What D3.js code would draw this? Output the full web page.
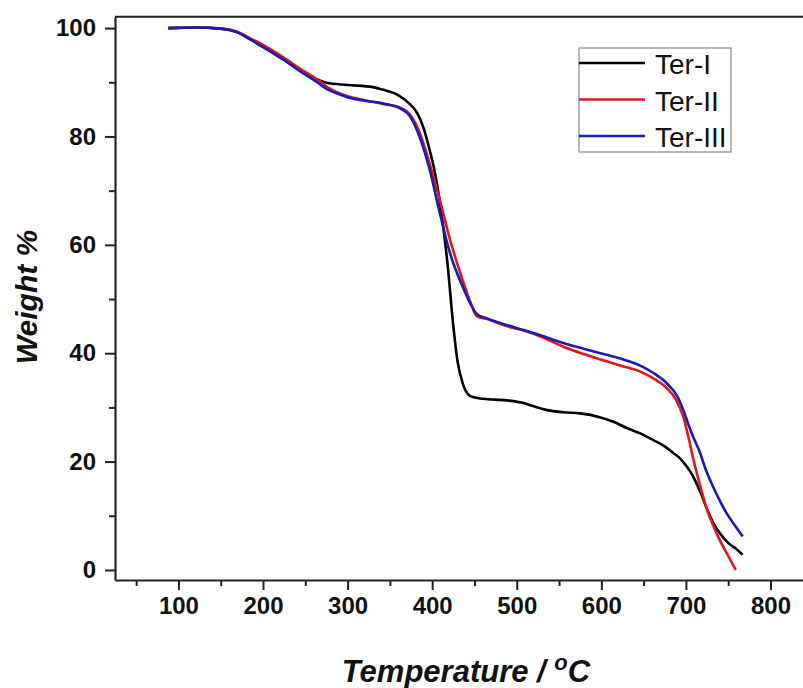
<!DOCTYPE html>
<html>
<head>
<meta charset="utf-8">
<script src="https://cdn.jsdelivr.net/npm/d3@7"></script>
<style>
body{margin:0;background:#fff;}
svg{display:block;font-family:"Liberation Sans",Arial,sans-serif;}
</style>
</head>
<body>
<div id="plot"></div>
<script>
// TGA curves: [temperature, weight %]
var terI = [[88,100],[120,100.1],[150,99.9],[170,99.2],[185,97.9],[200,96.6],[224,94.2],[245,92.2],[264,90.5],[275,89.9],[300,89.5],[330,89.1],[342,88.6],[355,88.0],[362,87.4],[372,86.2],[382,84.4],[390,81.5],[397,77.5],[403,73.5],[408,69],[412,64.6],[418,56.7],[425,45],[430,38.5],[436,34.5],[442,32.5],[448,31.9],[460,31.6],[488,31.3],[508,30.8],[520,30.2],[536,29.5],[555,29.1],[575,28.9],[598,28.2],[615,27.3],[630,26.2],[646,25.2],[661,24.0],[675,22.8],[685,21.6],[693,20.6],[700,19.3],[705,18.2],[711,16.5],[718,14],[725,11.2],[732,8.8],[740,6.8],[750,5],[760,3.8],[767,2.8]];

var terII = [[88,100],[120,100.1],[150,99.9],[170,99.3],[185,98.1],[200,96.9],[224,94.6],[244,92.5],[264,90.5],[275,89.2],[290,88],[303,87.3],[320,86.7],[342,86.0],[362,85.3],[374,84],[385,80.8],[397,75],[409,68.3],[421,61],[436,53.5],[445,49.5],[453,46.8],[465,46.3],[488,45],[510,44.1],[528,43.1],[555,41.2],[580,39.8],[606,38.5],[625,37.6],[646,36.6],[662,35.3],[677,33.6],[688,31.5],[697,28.2],[703,24.5],[709,20.3],[716,16],[725,11.1],[732,8.3],[740,5.5],[750,2.6],[759,0]];

var terIII = [[88,100],[120,100.1],[150,99.9],[170,99.2],[185,97.9],[200,96.5],[224,94.2],[244,92],[264,90],[275,88.8],[290,87.8],[303,87.1],[320,86.6],[342,86.1],[362,85.2],[374,83.7],[385,80],[397,73.9],[409,65.9],[421,58.5],[436,52.3],[445,49.2],[453,47.2],[465,46.4],[488,45.2],[510,44.2],[528,43.3],[555,41.9],[580,40.8],[606,39.7],[625,38.9],[646,37.7],[662,36.3],[677,34.5],[690,32],[697,29.5],[703,26.8],[709,24.4],[716,21.9],[724,18.3],[732,15.4],[740,12.8],[748,10.5],[758,8.2],[767,6.2]];

var seriesNames = ['Ter-I','Ter-II','Ter-III'];
var seriesColors = ['#000000','#e3161d','#1a1ab4'];
var xTicks = [100,200,300,400,500,600,700,800];
var yTicks = [0,20,40,60,80,100];

var W = 803, H = 688;
var margin = {t:16.7,l:115,b:108};

var svg = d3.select('#plot').append('svg')
	.attr('width',W)
	.attr('height',H);

// the frame runs past the right edge of the picture, so its right side is cut off
var x = d3.scaleLinear().domain([25,850]).range([margin.l, 178.3+750*0.846]);
var y = d3.scaleLinear().domain([-1.85,102.1]).range([H-margin.b, margin.t]);

var line = d3.line()
	.x(function(d){return x(d[0]);})
	.y(function(d){return y(d[1]);})
	.curve(d3.curveMonotoneX);

[terI,terII,terIII].forEach(function(s,i){
	svg.append('path')
		.datum(s)
		.attr('fill','none')
		.attr('stroke',seriesColors[i])
		.attr('stroke-width',2.6)
		.attr('stroke-linejoin','round')
		.attr('d',line);
});

// top of frame
svg.append('line')
	.attr('x1',x.range()[0]).attr('x2',W+5)
	.attr('y1',y.range()[1]).attr('y2',y.range()[1])
	.attr('stroke','#222').attr('stroke-width',2);

// axes
var xMinor = d3.range(50,851,100);
var yMinor = d3.range(10,100,20);

var gx = svg.append('g').attr('transform','translate(0,'+y.range()[0]+')');
gx.call(d3.axisBottom(x).tickValues(xMinor).tickSize(6).tickSizeOuter(0).tickFormat(''));
gx.call(function(g){
	var a = g.append('g');
	a.call(d3.axisBottom(x).tickValues(xTicks).tickSize(10).tickPadding(7));
	a.select('.domain').remove();
});

var gy = svg.append('g').attr('transform','translate('+x.range()[0]+',0)');
gy.call(d3.axisLeft(y).tickValues(yMinor).tickSize(6).tickSizeOuter(0).tickFormat(''));
gy.call(function(g){
	var a = g.append('g');
	a.call(d3.axisLeft(y).tickValues(yTicks).tickSize(10).tickPadding(9));
	a.select('.domain').remove();
});

svg.selectAll('.domain').attr('stroke','#222').attr('stroke-width',2.2);
svg.selectAll('.tick line').attr('stroke','#222').attr('stroke-width',2);
svg.selectAll('.tick text')
	.attr('font-family','"Liberation Sans",Arial,sans-serif')
	.attr('font-size',24)
	.attr('font-weight','bold')
	.attr('fill','#111');

// axis titles
svg.append('text')
	.attr('transform','translate(37,297) rotate(-90)')
	.attr('text-anchor','middle')
	.attr('font-size',30)
	.attr('font-weight','bold')
	.attr('font-style','italic')
	.attr('fill','#111')
	.text('Weight %');

var xt = svg.append('text')
	.attr('x',466).attr('y',682)
	.attr('text-anchor','middle')
	.attr('font-size',31)
	.attr('font-weight','bold')
	.attr('font-style','italic')
	.attr('fill','#111');
xt.append('tspan').text('Temperature / ');
xt.append('tspan').attr('dy',-12).attr('font-size',22).text('o');
xt.append('tspan').attr('dy',12).text('C');

// legend
var lg = svg.append('g');
lg.append('rect')
	.attr('x',579).attr('y',48).attr('width',152).attr('height',104)
	.attr('fill','#fff').attr('stroke','#888').attr('stroke-width',1.2);
seriesNames.forEach(function(n,i){
	var ly = 63 + i*36.5;
	lg.append('line')
		.attr('x1',579).attr('x2',645)
		.attr('y1',ly).attr('y2',ly)
		.attr('stroke',seriesColors[i]).attr('stroke-width',2.6);
	lg.append('text')
		.attr('x',655).attr('y',ly+11)
		.attr('font-size',28)
		.attr('fill','#111')
		.text(n);
});
</script>
</body>
</html>
